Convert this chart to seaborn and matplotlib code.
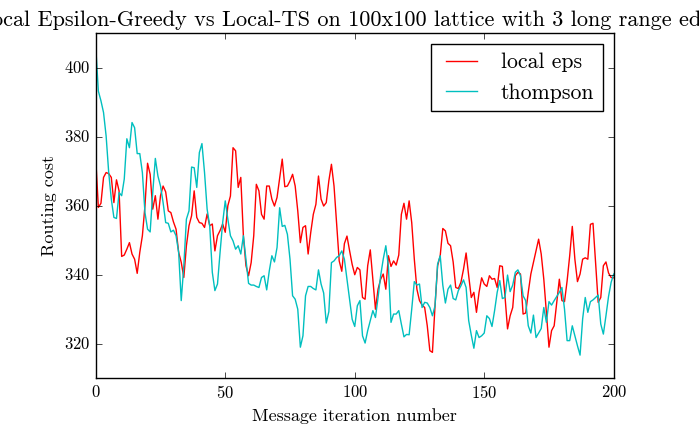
import numpy as np
import pandas as pd
import matplotlib
matplotlib.use('Agg')
import matplotlib.pyplot as plt
import seaborn as sns

# 数据：两条曲线 (x = 0..200)
iterations = list(range(201))

local_eps = [
    373.5, 359.5, 360.7, 368.2, 369.6, 369.3, 368.2, 360.9, 367.5, 364.3,
    345.3, 345.7, 347.4, 349.3, 346.0, 344.5, 340.4, 346.5, 351.3, 360.0,
    372.3, 369.1, 359.0, 362.9, 356.1, 362.9, 365.7, 364.0, 358.5, 358.0,
    355.3, 353.2, 346.5, 343.6, 339.2, 348.4, 354.2, 357.1, 364.3, 356.6,
    355.1, 354.9, 353.7, 357.6, 354.2, 354.7, 346.9, 351.3, 352.8, 354.7,
    352.3, 360.0, 362.8, 376.8, 375.9, 365.3, 368.2, 351.3, 342.6, 339.7,
    343.5, 351.3, 366.2, 364.3, 357.5, 356.1, 365.7, 365.7, 361.9, 359.9,
    362.4, 368.0, 373.5, 365.5, 365.7, 367.2, 369.1, 365.7, 358.5, 349.3,
    353.7, 354.2, 346.0, 352.2, 357.5, 360.4, 368.6, 361.9, 359.9, 360.9,
    367.2, 372.0, 365.7, 355.0, 344.0, 341.0, 349.0, 351.2, 347.0, 343.0,
    340.0, 342.1, 341.4, 333.4, 332.9, 342.6, 347.2, 338.7, 330.0, 335.8,
    338.7, 340.2, 335.8, 345.5, 342.4, 344.0, 342.8, 345.7, 357.5, 360.7,
    356.1, 361.4, 355.1, 344.5, 335.8, 332.5, 331.2, 330.5, 325.2, 318.0,
    317.5, 331.0, 342.6, 345.5, 353.4, 352.7, 349.1, 348.4, 343.7, 336.3,
    336.0, 337.8, 341.6, 346.3, 339.7, 333.4, 334.9, 329.1, 334.9, 339.1,
    337.3, 336.6, 339.7, 338.7, 338.9, 336.3, 342.6, 342.4, 333.9, 324.3,
    328.1, 330.5, 339.7, 340.7, 340.2, 328.6, 328.9, 334.9, 340.2, 343.6,
    346.9, 350.3, 346.0, 338.7, 329.1, 319.0, 323.8, 325.2, 332.0, 338.7,
    332.5, 332.2, 338.2, 345.5, 354.0, 344.5, 338.0, 340.2, 344.5, 344.9,
    344.5, 354.6, 354.9, 343.6, 332.0, 333.4, 342.6, 343.7, 340.5, 339.2,
    339.1,
]

thompson = [
    406.0, 393.2, 390.4, 387.0, 380.2, 369.6, 361.9, 356.6, 356.3, 363.8,
    362.9, 367.7, 379.4, 376.8, 384.1, 382.6, 375.1, 375.1, 369.6, 358.0,
    353.2, 352.4, 363.8, 373.7, 368.6, 365.7, 360.9, 355.1, 354.9, 352.4,
    352.9, 351.3, 346.5, 332.5, 342.6, 356.1, 358.5, 371.2, 371.0, 365.3,
    375.4, 378.0, 369.6, 359.0, 354.2, 340.7, 335.4, 337.3, 346.5, 355.1,
    361.4, 356.1, 351.3, 349.8, 347.4, 348.4, 346.0, 351.3, 344.5, 337.5,
    337.0, 337.0, 336.6, 336.3, 339.2, 339.7, 335.6, 341.1, 345.5, 343.7,
    347.9, 359.4, 354.0, 354.3, 351.7, 344.5, 333.9, 332.9, 330.0, 319.0,
    322.3, 333.9, 336.6, 336.6, 336.0, 335.6, 341.4, 337.3, 334.7, 326.0,
    329.3, 343.5, 344.0, 345.0, 345.5, 346.9, 344.5, 338.7, 332.9, 327.1,
    325.0, 331.0, 332.5, 322.3, 320.2, 323.8, 326.7, 329.6, 327.6, 333.4,
    339.7, 344.5, 348.4, 342.4, 326.2, 328.6, 328.6, 329.6, 325.7, 322.0,
    322.7, 322.6, 330.0, 338.0, 337.0, 337.3, 330.5, 332.0, 331.8, 330.5,
    328.1, 331.0, 343.1, 345.5, 337.0, 331.8, 335.8, 337.0, 333.1, 332.7,
    335.4, 336.8, 338.5, 336.3, 326.7, 322.5, 318.7, 323.8, 321.8, 322.3,
    323.1, 328.1, 327.3, 325.0, 329.6, 334.9, 338.3, 333.1, 333.4, 339.9,
    335.1, 337.0, 340.7, 341.4, 339.7, 333.9, 332.5, 325.2, 323.1, 328.3,
    321.8, 323.1, 324.4, 330.5, 326.2, 332.2, 331.2, 332.5, 333.7, 334.9,
    336.3, 330.0, 320.9, 320.9, 325.2, 322.3, 319.4, 316.7, 327.2, 333.4,
    329.1, 332.2, 332.7, 333.4, 334.1, 325.7, 322.8, 328.1, 333.7, 337.8,
    340.2,
]

x_ticks = [0, 50, 100, 150, 200]
y_ticks = [320, 340, 360, 380, 400]

plt.style.use('classic')
plt.rcParams['font.family'] = ['cmr10', 'DejaVu Serif']
plt.rcParams['mathtext.fontset'] = 'cm'
plt.rcParams['axes.formatter.use_mathtext'] = True

df = pd.DataFrame({
    'iteration': iterations * 2,
    'cost': local_eps + thompson,
    'method': ['local eps'] * len(iterations) + ['thompson'] * len(iterations),
})

fig = plt.figure(figsize=(6.99, 4.25), dpi=100, facecolor='white')
ax = fig.add_axes([0.137, 0.110, 0.741, 0.812])

sns.lineplot(data=df, x='iteration', y='cost', hue='method',
             palette={'local eps': 'r', 'thompson': 'c'},
             estimator=None, linewidth=1.0, ax=ax)

ax.set_xlim(0, 200)
ax.set_ylim(310, 410)
ax.set_xticks(x_ticks)
ax.set_yticks(y_ticks)
# 原图标题本身超出画布两侧，这里保持同样的裁切效果
ax.set_title('Local Epsilon-Greedy vs Local-TS on 100x100 lattice with 3 long range edges',
             fontsize=16)
ax.set_xlabel('Message iteration number', fontsize=13)
ax.set_ylabel('Routing cost', fontsize=13)
ax.legend(loc='upper right', fontsize=15.7)

plt.savefig('out.png', dpi=100, facecolor='white')
